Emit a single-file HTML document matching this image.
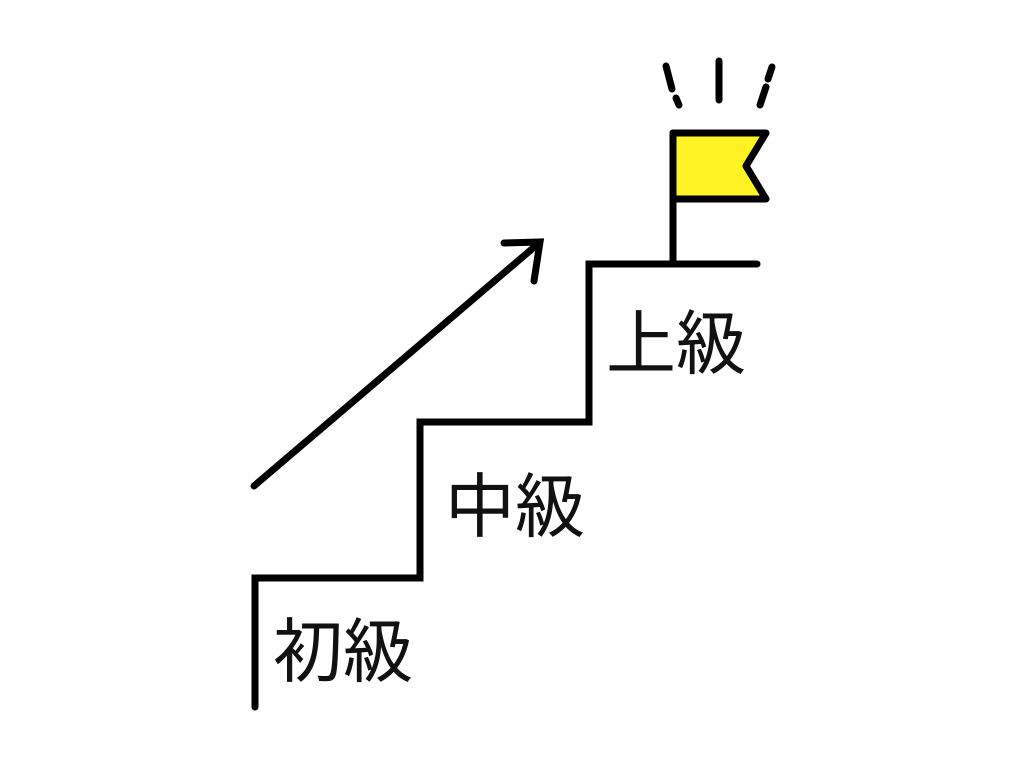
<!DOCTYPE html>
<html><head><meta charset="utf-8"><style>
html,body{margin:0;padding:0;background:#fff;}
svg{display:block}
text{font-family:"Liberation Sans","Noto Sans CJK JP",sans-serif;font-size:70px;fill:#111;}
</style></head><body>
<svg width="1024" height="768" viewBox="0 0 1024 768">
<g fill="none" stroke="#000" stroke-width="7" stroke-linecap="round" stroke-linejoin="miter">
<polyline points="255,707 255,578 420,578 420,422 589,422 589,264 757,264"/>
<line x1="254" y1="486" x2="539" y2="243"/>
<polyline points="504,243 540,242 534,281" stroke-linejoin="miter"/>
<line x1="673" y1="262" x2="673" y2="133"/>
<line x1="666" y1="66" x2="672" y2="89"/>
<line x1="676" y1="98" x2="679" y2="105"/>
<line x1="719" y1="61" x2="719" y2="100"/>
<line x1="772" y1="67" x2="768" y2="79"/>
<line x1="766" y1="87" x2="760" y2="105"/>
</g>
<polygon points="673,133 766,133 746,166 766,199 673,199" fill="#fdf224" stroke="#000" stroke-width="7" stroke-linejoin="round"/>
<text x="606" y="368">上級</text>
<text x="445" y="531">中級</text>
<text x="273" y="676">初級</text>
</svg>
</body></html>
